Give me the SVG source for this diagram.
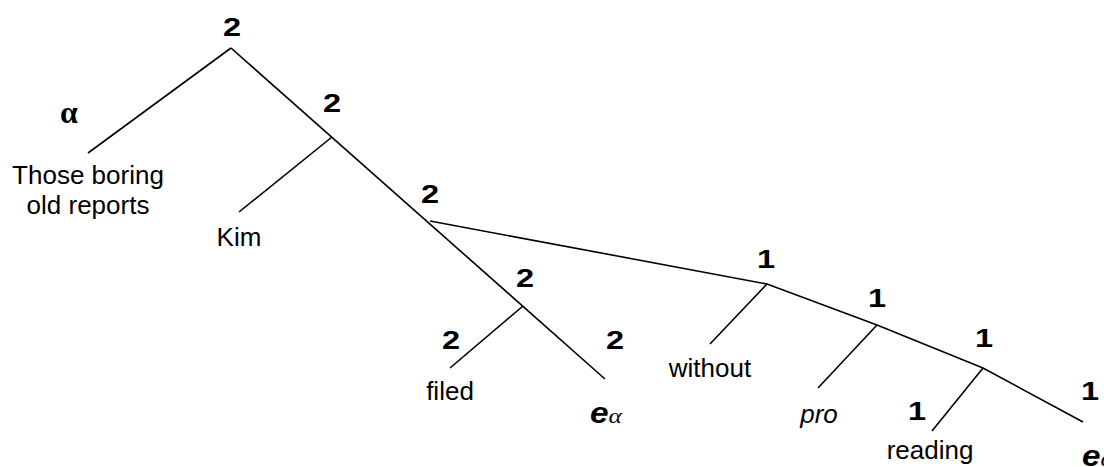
<svg xmlns="http://www.w3.org/2000/svg" width="1104" height="467" viewBox="0 0 1104 467">
<style>
.t{font-family:"Liberation Sans",Arial,sans-serif;font-size:26px;fill:#000;text-anchor:middle}
.n{font-family:"Liberation Sans",Arial,sans-serif;font-size:26px;font-weight:bold;fill:#000;text-anchor:middle}
.i{font-style:italic}
.g{font-family:"Liberation Serif","Times New Roman",serif;font-size:32px;font-weight:bold;fill:#000;text-anchor:middle}
.e{font-family:"Liberation Sans",Arial,sans-serif;font-size:29px;font-weight:bold;font-style:italic;fill:#000}
.s{font-family:"Liberation Serif","Times New Roman",serif;font-size:22px;font-style:italic;font-weight:normal}
.c line{stroke:#000;stroke-width:1.6;fill:none}
</style>
<rect width="1104" height="467" fill="#fff"/>
<g id="connectors" class="c">
<line x1="231" y1="48" x2="88" y2="153"/>
<line x1="231" y1="48" x2="605" y2="379"/>
<line x1="332" y1="137" x2="239" y2="212"/>
<line x1="523" y1="306" x2="450" y2="368"/>
<polyline points="430,221 767,284 877,325 983,368 1083,422" fill="none" stroke="#000" stroke-width="1.6"/>
<line x1="767" y1="284" x2="710" y2="344"/>
<line x1="877" y1="325" x2="818" y2="388"/>
<line x1="983" y1="368" x2="932" y2="431"/>
</g>
<g id="n-root"><text class="n" transform="translate(232,36) scale(1.25,1)">2</text></g>
<g id="n-alpha"><text class="g" x="69" y="123">α</text></g>
<g id="n-those"><text class="t" x="88" y="184">Those boring</text><text class="t" x="88" y="214">old reports</text></g>
<g id="n-2b"><text class="n" transform="translate(332,112) scale(1.25,1)">2</text></g>
<g id="n-kim"><text class="t" x="239" y="246">Kim</text></g>
<g id="n-2c"><text class="n" transform="translate(430,203) scale(1.25,1)">2</text></g>
<g id="n-2d"><text class="n" transform="translate(525,287) scale(1.25,1)">2</text></g>
<g id="n-2filed"><text class="n" transform="translate(451,349) scale(1.25,1)">2</text></g>
<g id="n-filed"><text class="t" x="450" y="400">filed</text></g>
<g id="n-2e"><text class="n" transform="translate(615,349) scale(1.25,1)">2</text></g>
<g id="n-e1"><text class="e" transform="translate(590,423) scale(1.15,1)">e<tspan class="s">α</tspan></text></g>
<g id="n-1a"><text class="n" transform="translate(766,268) scale(1.25,1)">1</text></g>
<g id="n-without"><text class="t" x="710" y="377">without</text></g>
<g id="n-1b"><text class="n" transform="translate(877,307) scale(1.25,1)">1</text></g>
<g id="n-pro"><text class="t i" x="819" y="423">pro</text></g>
<g id="n-1c"><text class="n" transform="translate(984,347) scale(1.25,1)">1</text></g>
<g id="n-1reading"><text class="n" transform="translate(917,420) scale(1.25,1)">1</text></g>
<g id="n-reading"><text class="t" x="930" y="459">reading</text></g>
<g id="n-1d"><text class="n" transform="translate(1090,400) scale(1.25,1)">1</text></g>
<g id="n-e2"><text class="e" transform="translate(1082,466) scale(1.15,1)">e<tspan class="s">α</tspan></text></g>
</svg>
